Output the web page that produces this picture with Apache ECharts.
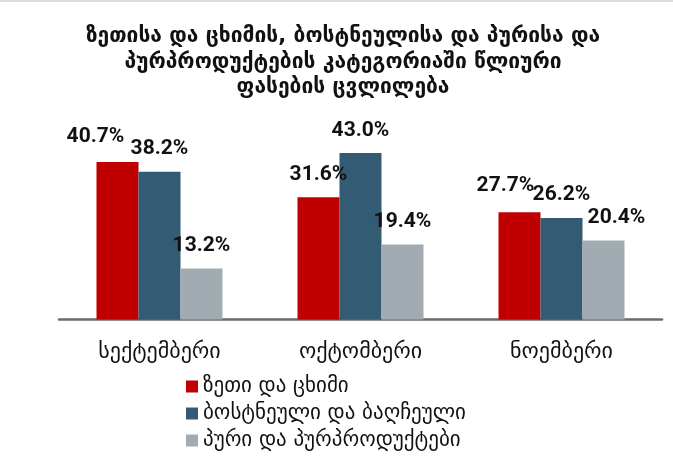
<!DOCTYPE html>
<html>
<head>
<meta charset="utf-8">
<script src="https://cdn.jsdelivr.net/npm/echarts@6/dist/echarts.min.js"></script>
<style>
  html, body { margin: 0; padding: 0; background: #fff; }
  #chart { width: 673px; height: 466px; }
</style>
</head>
<body>
<div id="chart"></div>
<script>
// data
const months = ['სექტემბერი', 'ოქტომბერი', 'ნოემბერი']
const seriesNames = ['ზეთი და ცხიმი', 'ბოსტნეული და ბაღჩეული', 'პური და პურპროდუქტები']
const oilFat = [40.7, 31.6, 27.7]
const vegetables = [38.2, 43.0, 26.2]
const bread = [13.2, 19.4, 20.4]

const titleText = 'ზეთისა და ცხიმის, ბოსტნეულისა და პურისა და\nპურპროდუქტების კატეგორიაში წლიური\nფასების ცვლილება'

const colors = ['#C00000', '#345B74', '#A2ABB1']
const geoFont = '"DejaVu Sans", sans-serif'
const numFont = 'Roboto, "Liberation Sans", sans-serif'

// labels in the source are nudged by hand here and there
const labelNudge = [
  [[-22, -3], [0, 0], [-14, -4]],
  [[0, 0], [0, 0], [0, -1]],
  [[0, 0], [0, 0], [13, 0]]
]

function buildSeries (name, values, idx) {
  return {
    name: name,
    type: 'bar',
    barWidth: 42,
    barGap: '0%',
    itemStyle: { color: colors[idx] },
    label: {
      show: true,
      position: 'top',
      distance: 12,
      fontFamily: numFont,
      fontWeight: 'bold',
      fontSize: 21,
      color: '#111',
      formatter: p => p.value.toFixed(1) + '%'
    },
    data: values.map((v, i) => ({
      value: v,
      label: { offset: labelNudge[idx][i] }
    }))
  }
}

const chart = echarts.init(document.getElementById('chart'))
const option = {
  backgroundColor: '#fff',
  animation: false,
  title: {
    text: titleText,
    left: 338,
    textAlign: 'center',
    top: 19,
    textStyle: {
      fontFamily: geoFont,
      fontWeight: 'bold',
      fontSize: 21,
      lineHeight: 25.5,
      color: '#111'
    }
  },
  legend: {
    orient: 'vertical',
    left: 186,
    top: 376,
    padding: 0,
    itemWidth: 12,
    itemHeight: 12,
    itemGap: 6,
    icon: 'rect',
    textStyle: {
      fontFamily: geoFont,
      fontSize: 21,
      color: '#111'
    },
    data: seriesNames
  },
  grid: {
    left: 59,
    right: 11,
    top: 126,
    bottom: 146.5,
    containLabel: false
  },
  xAxis: {
    type: 'category',
    data: months,
    axisLine: { lineStyle: { color: '#6b6b6b', width: 2.5 } },
    axisTick: { show: false },
    axisLabel: {
      margin: 22,
      fontFamily: geoFont,
      fontSize: 22,
      color: '#111'
    }
  },
  yAxis: {
    type: 'value',
    min: 0,
    max: 50,
    show: false,
    splitLine: { show: false }
  },
  series: [
    buildSeries(seriesNames[0], oilFat, 0),
    buildSeries(seriesNames[1], vegetables, 1),
    buildSeries(seriesNames[2], bread, 2)
  ],
  graphic: [{
    type: 'rect',
    shape: { x: 0, y: 0, width: 673, height: 2 },
    style: { fill: '#dcdcdc' }
  }]
}
chart.setOption(option)
</script>
</body>
</html>
